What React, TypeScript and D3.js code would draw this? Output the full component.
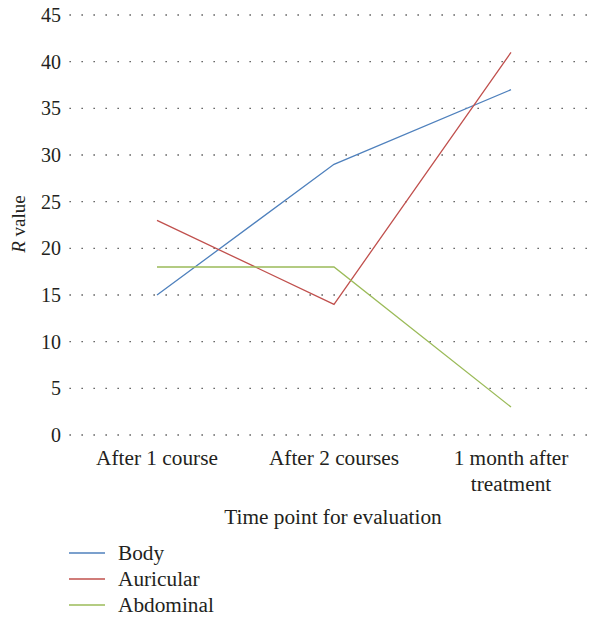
import React from "react";
import * as d3 from "d3";

const categories = ["After 1 course", "After 2 courses", "1 month after|treatment"];
const seriesNames = ["Body", "Auricular", "Abdominal"];
const bodyValues = [15, 29, 37];
const auricularValues = [23, 14, 41];
const abdominalValues = [18, 18, 3];
const yTicks = [0, 5, 10, 15, 20, 25, 30, 35, 40, 45];
const colors = ["#4f81bd", "#c0504d", "#9bbb59"];

const W = 598, H = 619;
const FONT = "'Liberation Serif'";

export default function App() {
  const x = d3.scalePoint<string>().domain(categories).range([157, 511]);
  const y = d3.scaleLinear().domain([0, 45]).range([435, 15]);
  const series = [bodyValues, auricularValues, abdominalValues];
  const line = d3.line<number>().x((_, i) => x(categories[i])!).y((d) => y(d));
  const ts = { fontFamily: FONT, fontSize: 20 } as React.CSSProperties;
  const tl = { fontFamily: FONT, fontSize: 21.3 } as React.CSSProperties;
  const tt = { fontFamily: FONT, fontSize: 19 } as React.CSSProperties;

  return (
    <svg width={W} height={H} style={{ position: "absolute", left: 0, top: 0, background: "#fff" }}>
      <g fill="#231f20">
        {yTicks.map((t) => (
          <g key={t}>
            <line x1={69.5} x2={590} y1={y(t)} y2={y(t)} stroke="#444" strokeWidth={1.3} strokeDasharray="1.3 10.7" />
            <text x={61} y={y(t)} dy="0.35em" textAnchor="end" style={ts}>{t}</text>
          </g>
        ))}
        {categories.map((c) => {
          const parts = c.split("|");
          return (
            <text key={c} x={x(c)} y={465} textAnchor="middle" style={tl}>
              {parts.map((p, i) => (
                <tspan key={i} x={x(c)} dy={i === 0 ? 0 : 26}>{p}</tspan>
              ))}
            </text>
          );
        })}
        <text x={333} y={524} textAnchor="middle" style={tl}>Time point for evaluation</text>
        <text transform={`translate(25,224) rotate(-90)`} textAnchor="middle" style={tt}>
          <tspan fontStyle="italic">R</tspan> value
        </text>
        {series.map((s, i) => (
          <path key={i} d={line(s)!} fill="none" stroke={colors[i]} strokeWidth={1.3} />
        ))}
        {seriesNames.map((n, i) => (
          <g key={n}>
            <line x1={69} x2={105} y1={553 + i * 26} y2={553 + i * 26} stroke={colors[i]} strokeWidth={1.3} />
            <text x={118} y={553 + i * 26} dy="0.35em" style={tl}>{n}</text>
          </g>
        ))}
      </g>
    </svg>
  );
}
